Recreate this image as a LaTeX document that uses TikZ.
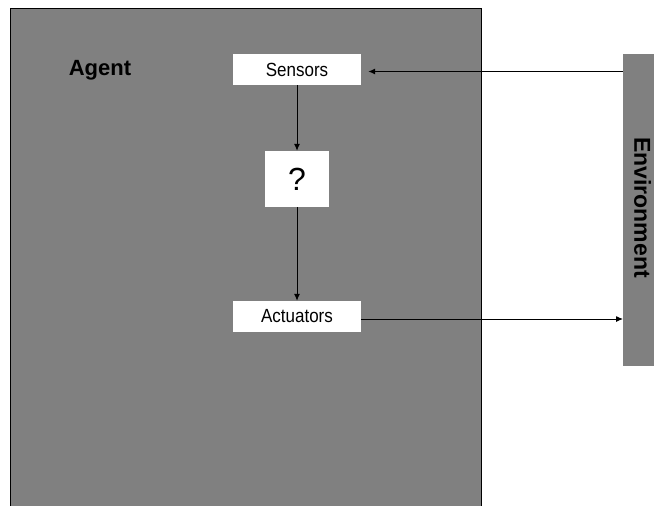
\documentclass[tikz,border=0pt]{standalone}
\usepackage{fontspec}
\setmainfont{Liberation Sans}
\usetikzlibrary{arrows.meta}
\definecolor{panelgray}{RGB}{128,128,128}
\newcommand{\tallish}[1]{\scalebox{1}[1.12]{#1}}
\tikzset{
  panel/.style={fill=panelgray, draw=black, line width=1pt, inner sep=0pt, anchor=north west},
  envbar/.style={fill=panelgray, draw=none, inner sep=0pt, anchor=north west},
  whitebox/.style={fill=white, draw=none, inner sep=0pt, text=black},
  flow/.style={draw=black, line width=1pt, -{Latex[length=7pt,width=6pt]}},
  title/.style={font=\fontsize{22}{24}\selectfont\bfseries, inner sep=0pt},
  boxlabel/.style={font=\fontsize{17}{19}\selectfont}
}
\begin{document}
\begin{tikzpicture}[x=1pt,y=-1pt]
  \useasboundingbox (0,0) rectangle (654,506);
  \fill[white] (0,0) rectangle (654,506);

  % agent container and environment bar
  \node[panel, minimum width=471.5pt, minimum height=515pt] (agent) at (9.5,7.5) {};
  \node[envbar, minimum width=40pt, minimum height=312pt] (env) at (623,54) {};
  \node[title, font=\fontsize{23}{25}\selectfont\bfseries, rotate=-90] (envlabel) at (642.5,207.5) {Environment};
  \node[title, anchor=base] (agentlabel) at (100,75.5) {Agent};

  % inner components
  \node[whitebox, boxlabel, minimum width=128pt, minimum height=31pt] (sensors) at (297,69.5) {\tallish{Sensors}};
  \node[whitebox, font=\fontsize{32}{34}\selectfont, minimum width=64pt, minimum height=56pt] (think) at (297,179) {?};
  \node[whitebox, boxlabel, minimum width=128pt, minimum height=31pt] (actuators) at (297,316.5) {\tallish{Actuators}};

  % percept and action flow
  \draw[flow] (env.west |- 0,71.5) -- ([xshift=7pt,yshift=-2pt]sensors.east);
  \draw[flow] (sensors) -- (think);
  \draw[flow] (think) -- (actuators);
  \draw[flow] ([yshift=-2.5pt]actuators.east) -- (env.west |- 0,319);
\end{tikzpicture}
\end{document}
